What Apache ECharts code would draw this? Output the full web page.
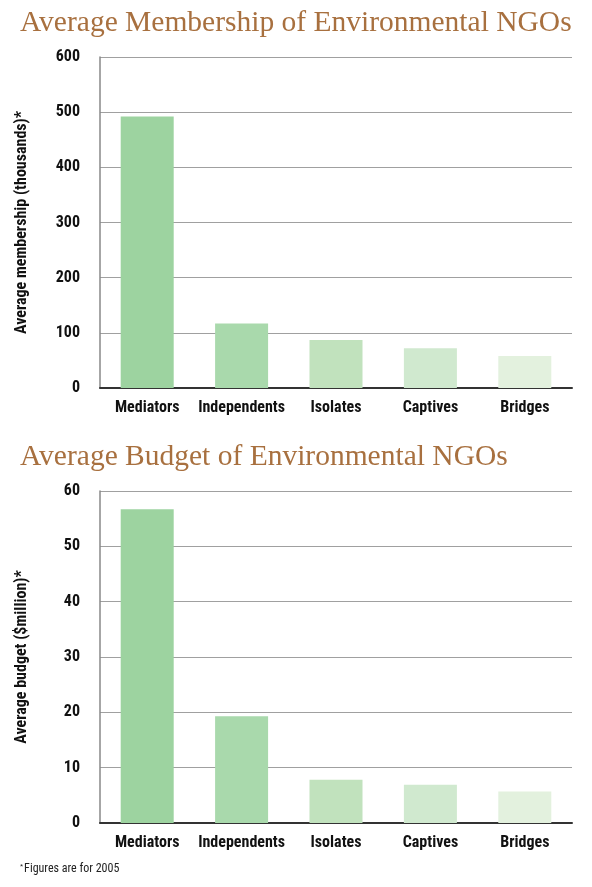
<!DOCTYPE html>
<html>
<head>
<meta charset="utf-8">
<script src="https://cdn.jsdelivr.net/npm/echarts@6/dist/echarts.min.js"></script>
<style>
  html, body { margin: 0; padding: 0; background: #fff; }
  #main { width: 592px; height: 887px; }
</style>
</head>
<body>
<div id="main"></div>
<script>
// categories and values
const groups = ['Mediators', 'Independents', 'Isolates', 'Captives', 'Bridges']
const membership = [492, 117, 87, 72, 58]   // thousands
const budget = [56.7, 19.3, 7.8, 6.9, 5.7]  // $ million
const barColors = ['#9dd3a0', '#a9d9ac', '#c1e2bd', '#d0e9cf', '#e3f1de']

const condensed = "'Liberation Sans Narrow', 'Roboto Condensed', 'Arial Narrow', sans-serif"
const titleColor = '#a8703f'

function catAxis(gridIndex) {
  return {
    type: 'category',
    gridIndex: gridIndex,
    data: groups,
    axisTick: { show: false },
    axisLine: { lineStyle: { color: '#333', width: 2 } },
    axisLabel: {
      interval: 0, // 显示全部类目
      color: '#111',
      fontFamily: condensed,
      fontWeight: 'bold',
      fontSize: 16,
      margin: 12
    }
  }
}

function valAxis(gridIndex, name, max, interval) {
  return {
    type: 'value',
    gridIndex: gridIndex,
    min: 0,
    max: max,
    interval: interval,
    name: name,
    nameLocation: 'middle',
    nameGap: 70,
    nameTextStyle: {
      color: '#111',
      fontFamily: condensed,
      fontWeight: 'bold',
      fontSize: 16
    },
    axisLine: { show: true, lineStyle: { color: '#888', width: 1.5 } },
    axisTick: { show: false },
    axisLabel: {
      color: '#111',
      fontFamily: condensed,
      fontWeight: 'bold',
      fontSize: 16,
      margin: 20
    },
    splitLine: { lineStyle: { color: '#a0a0a0', width: 1 } }
  }
}

function barSeries(axisIndex, values) {
  return {
    type: 'bar',
    xAxisIndex: axisIndex,
    yAxisIndex: axisIndex,
    barWidth: 53,
    data: values.map((v, i) => ({ value: v, itemStyle: { color: barColors[i] } }))
  }
}

let myChart = echarts.init(document.getElementById('main'))
let option = {
  animation: false,
  title: [{
    text: 'Average Membership of Environmental NGOs',
    left: 15,
    top: 3,
    textStyle: { color: titleColor, fontFamily: "'Liberation Serif', serif", fontWeight: 'normal', fontSize: 29.5 }
  }, {
    text: 'Average Budget of Environmental NGOs',
    left: 15,
    top: 437,
    textStyle: { color: titleColor, fontFamily: "'Liberation Serif', serif", fontWeight: 'normal', fontSize: 29.5 }
  }],
  grid: [
    { left: 100, right: 20, top: 57, height: 331 },
    { left: 100, right: 20, top: 491, height: 332 }
  ],
  xAxis: [catAxis(0), catAxis(1)],
  yAxis: [
    valAxis(0, 'Average membership (thousands)*', 600, 100),
    valAxis(1, 'Average budget ($million)*', 60, 10)
  ],
  series: [barSeries(0, membership), barSeries(1, budget)],
  graphic: [{
    type: 'text',
    left: 20,
    top: 863,
    style: {
      text: '{s|*}Figures are for 2005',
      fill: '#222',
      font: "12px " + condensed,
      rich: {
        s: { fontSize: 8, verticalAlign: 'top', padding: [0, 1, 4, 0] }
      }
    }
  }]
}
myChart.setOption(option)
</script>
</body>
</html>
